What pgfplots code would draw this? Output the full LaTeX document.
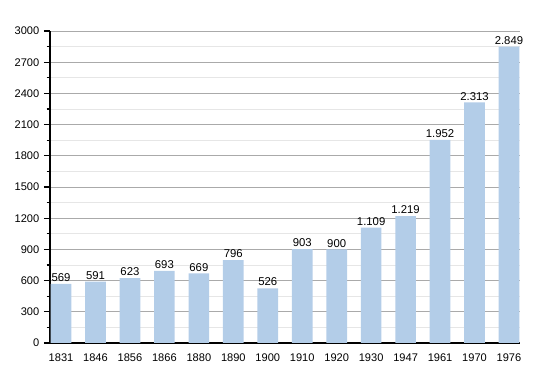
\documentclass[border=0pt]{standalone}
\usepackage{fontspec}
\setmainfont{Liberation Sans}
\usepackage{pgfplots}
\pgfplotsset{compat=1.18}
\definecolor{barblue}{RGB}{179,205,232}
\definecolor{majgrid}{RGB}{170,170,170}
\definecolor{mingrid}{RGB}{230,230,230}
\begin{document}
\begin{tikzpicture}
\begin{axis}[
  scale only axis,
  width=352.5pt, height=234pt,
  ymin=0, ymax=3000,
  xmin=-0.32, xmax=13.32,
  ytick={0,300,...,3000},
  minor y tick num=1,
  xtick=data,
  xticklabels={1831,1846,1856,1866,1880,1890,1900,1910,1920,1930,1947,1961,1970,1976},
  axis x line*=bottom,
  axis y line*=left,
  axis line style={black, line width=0.9pt},
  x tick style={draw=none},
  y tick style={black, line width=0.8pt},
  major tick length=4.5pt,
  minor tick length=2.5pt,
  tick align=outside,
  ymajorgrids, yminorgrids,
  major grid style={majgrid, line width=0.6pt},
  minor grid style={mingrid, line width=0.6pt},
  tick label style={font=\fontsize{8.3}{9}\selectfont},
  /pgf/number format/assume math mode=true,
  yticklabel style={/pgf/number format/1000 sep={}},
  ybar, bar width=15.5pt,
  nodes near coords={\pgfmathprintnumber[1000 sep={.},assume math mode=true]{\pgfplotspointmeta}},
  every node near coord/.append style={font=\fontsize{8.5}{9}\selectfont, black, inner sep=1.5pt},
  clip=false,
]
\addplot[fill=barblue, draw=none] coordinates {
(0,569) (1,591) (2,623) (3,693) (4,669) (5,796) (6,526) (7,903) (8,900) (9,1109) (10,1219) (11,1952) (12,2313) (13,2849)
};
\end{axis}
\path ([xshift=-37.5pt,yshift=-22.5pt]current axis.south west) rectangle ([xshift=22.5pt,yshift=23.25pt]current axis.north east);
\end{tikzpicture}
\end{document}
